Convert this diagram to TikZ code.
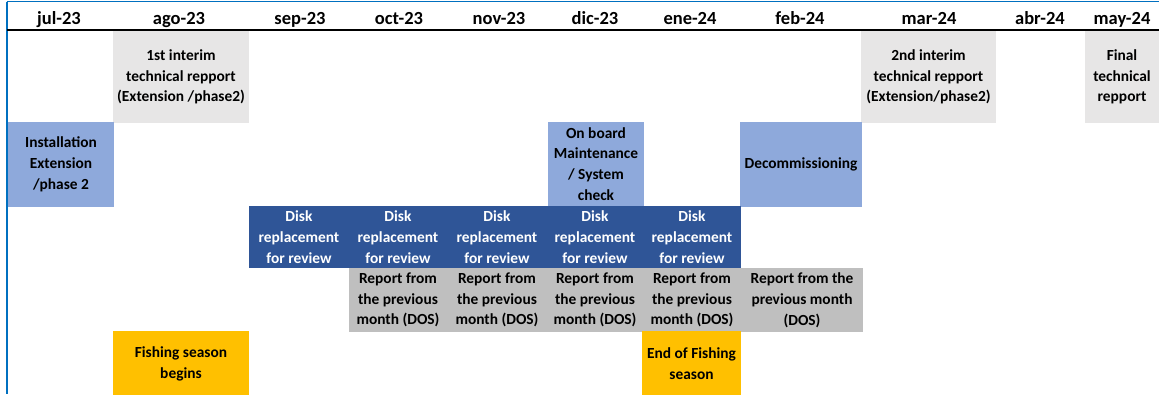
\documentclass[tikz,border=0pt]{standalone}
\usepackage{fontspec}
\setmainfont{Carlito}
\definecolor{lgray}{HTML}{E7E6E6}
\definecolor{lblue}{HTML}{8EA9DB}
\definecolor{dblue}{HTML}{2F5597}
\definecolor{mgray}{HTML}{BFBFBF}
\definecolor{amber}{HTML}{FFC000}
\definecolor{frame}{HTML}{0070C0}
\begin{document}
\begin{tikzpicture}[x=1pt,y=-1pt,
  txt/.style={font=\fontsize{15.4}{20.8}\selectfont\bfseries, align=center, inner sep=0pt},
  cell/.style={txt, draw=none},
  hdr/.style={font=\fontsize{18.5}{22}\selectfont\bfseries, inner sep=0pt, anchor=base},
  graybox/.style={cell, fill=lgray},
  lbluebox/.style={cell, fill=lblue},
  diskbox/.style={cell, fill=dblue, text=white, minimum height=62pt},
  repbox/.style={cell, fill=mgray, minimum height=64pt},
  fishbox/.style={cell, fill=amber, minimum height=65pt}]
\useasboundingbox (0,0) rectangle (1159,394);
\begin{scope}
\clip (0,0) rectangle (1159,394);
% header labels
\node[hdr] (h1) at (59,24) {jul-23};
\node[hdr] (h2) at (179,24) {ago-23};
\node[hdr] (h3) at (300,24) {sep-23};
\node[hdr] (h4) at (399,24) {oct-23};
\node[hdr] (h5) at (499,24) {nov-23};
\node[hdr] (h6) at (595,24) {dic-23};
\node[hdr] (h7) at (690,24) {ene-24};
\node[hdr] (h8) at (800,24) {feb-24};
\node[hdr] (h9) at (929,24) {mar-24};
\node[hdr] (h10) at (1040,24) {abr-24};
\node[hdr] (h11) at (1122,24) {may-24};
% reports
\node[graybox, minimum width=136pt, minimum height=92pt] (r1) at (181,77) {1st interim\\technical repport\\(Extension /phase2)};
\node[graybox, minimum width=135pt, minimum height=92pt] (r2) at (928.5,77) {2nd interim\\technical repport\\(Extension/phase2)};
\node[graybox, minimum width=74pt, minimum height=92pt] (r3) at (1122,77) {Final\\technical\\repport};
% light blue
\node[lbluebox, minimum width=106pt, minimum height=85pt] (inst) at (61,164.5) {Installation\\Extension\\/phase 2};
\node[lbluebox, minimum width=96pt, minimum height=84pt] (onb) at (596,164) {On board\\Maintenance\\/ System\\check};
\node[lbluebox, minimum width=122pt, minimum height=85pt] (dec) at (801,164.5) {Decommissioning};
% disks
\node[diskbox, minimum width=100pt] (d1) at (299,237) {Disk\\replacement\\for review};
\node[diskbox, minimum width=98pt] (d2) at (398,237) {Disk\\replacement\\for review};
\node[diskbox, minimum width=100pt] (d3) at (497,237) {Disk\\replacement\\for review};
\node[diskbox, minimum width=96pt] (d4) at (595,237) {Disk\\replacement\\for review};
\node[diskbox, minimum width=98pt] (d5) at (692,237) {Disk\\replacement\\for review};
% monthly reports
\node[repbox, minimum width=98pt] (m1) at (398,300) {Report from\\the previous\\month (DOS)};
\node[repbox, minimum width=100pt] (m2) at (497,300) {Report from\\the previous\\month (DOS)};
\node[repbox, minimum width=96pt] (m3) at (595,300) {Report from\\the previous\\month (DOS)};
\node[repbox, minimum width=98pt] (m4) at (692,300) {Report from\\the previous\\month (DOS)};
\node[repbox, minimum width=122pt] (m5) at (802,300) {Report from the\\previous month\\(DOS)};
% fishing
\node[fishbox, minimum width=136pt] (f1) at (181,363.5) {Fishing season\\begins};
\node[fishbox, minimum width=99pt] (f2) at (691.5,363.5) {End of Fishing\\season};
% frame lines
\coordinate (tl) at (6.5,1.5);
\coordinate (tr) at (1159,1.5);
\coordinate (bl) at (6.5,394);
\coordinate (hl) at (7,30);
\coordinate (hr) at (1159,30);
\draw[frame, line width=1.5pt] (tl) -- (tr);
\draw[frame, line width=2pt] (tl) -- (bl);
\draw[black, line width=2pt] (hl) -- (hr);
\end{scope}
\end{tikzpicture}
\end{document}
